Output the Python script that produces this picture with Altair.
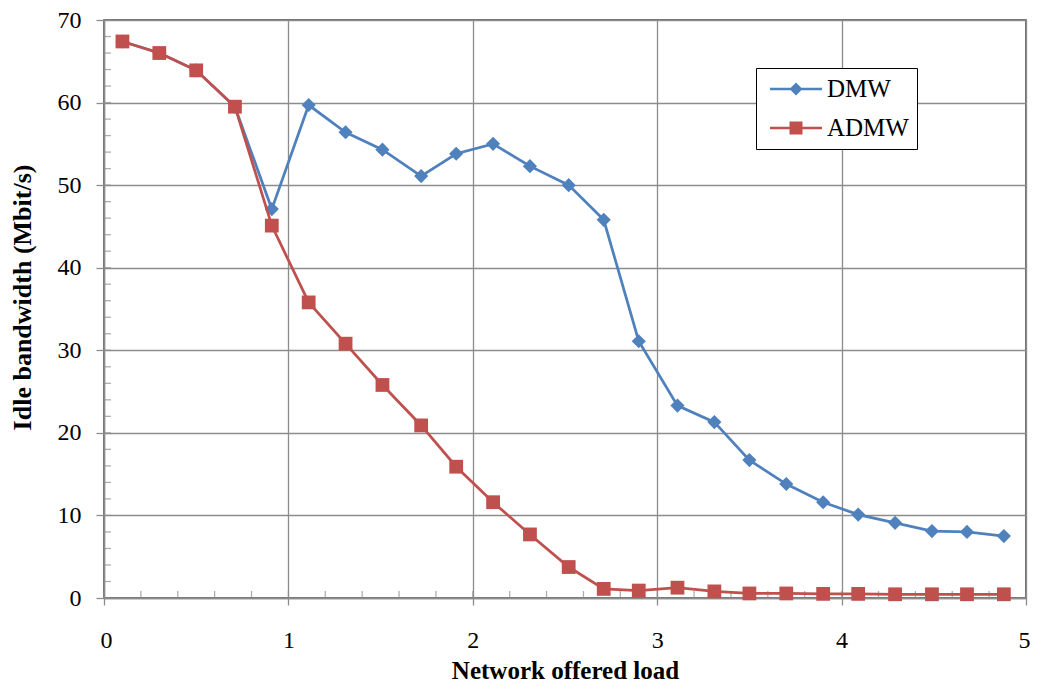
import altair as alt
import pandas as pd

# ---- data ----
load = [0.10, 0.30, 0.50, 0.71, 0.91, 1.11, 1.31, 1.51, 1.72, 1.91, 2.11, 2.31, 2.52,
        2.71, 2.90, 3.11, 3.31, 3.50, 3.70, 3.90, 4.09, 4.29, 4.49, 4.68, 4.88]
dmw = [67.4, 66.0, 63.9, 59.5, 47.1, 59.7, 56.4, 54.3, 51.1, 53.8, 55.0, 52.3, 50.0,
       45.8, 31.1, 23.3, 21.3, 16.7, 13.8, 11.6, 10.1, 9.1, 8.1, 8.0, 7.5]
admw = [67.4, 66.0, 63.9, 59.5, 45.1, 35.8, 30.8, 25.8, 20.9, 15.9, 11.6, 7.7, 3.75,
        1.1, 0.9, 1.25, 0.8, 0.55, 0.55, 0.5, 0.5, 0.45, 0.45, 0.45, 0.45]
series_names = ["DMW", "ADMW"]
x_ticks = [0, 1, 2, 3, 4, 5]
y_ticks = [0, 10, 20, 30, 40, 50, 60, 70]
x_minor = [round(i * 0.2, 1) for i in range(26)]
y_minor = [i * 2 for i in range(36)]

BLUE = "#4F81BD"
RED = "#C0504D"
GRID = "#8c8c8c"
FONT = "Liberation Serif"

df = pd.DataFrame({
    "load": load * 2,
    "bw": dmw + admw,
    "series": ["DMW"] * len(load) + ["ADMW"] * len(load),
})
xminor_df = pd.DataFrame({"t": x_minor})
yminor_df = pd.DataFrame({"t": y_minor})

xscale = alt.Scale(domain=[0, 5], nice=False, zero=False)
yscale = alt.Scale(domain=[0, 70], nice=False)

xaxis = alt.Axis(values=x_ticks, format="d", grid=True, gridColor=GRID, gridWidth=1.3,
                 domainColor=GRID, domainWidth=1.5, tickColor=GRID, tickWidth=1.3, tickSize=7,
                 labelFont=FONT, labelFontSize=24, labelColor="black", labelPadding=23,
                 labelFlush=True, labelFlushOffset=4,
                 title="Network offered load", titleFont=FONT, titleFontSize=25,
                 titleFontWeight="bold", titleColor="black", titleY=80,
                 titleBaseline="alphabetic")
yaxis = alt.Axis(values=y_ticks, grid=True, gridColor=GRID, gridWidth=1.3,
                 domainColor=GRID, domainWidth=1.5, tickColor=GRID, tickWidth=1.3, tickSize=8,
                 labelFont=FONT, labelFontSize=24, labelColor="black", labelPadding=15,
                 labelFlush=False,
                 title="Idle bandwidth (Mbit/s)", titleFont=FONT, titleFontSize=26,
                 titleFontWeight="bold", titleColor="black", titleAngle=-90,
                 titleX=-74, titleY=277, titleAlign="center", titleBaseline="alphabetic")

X = lambda f: alt.X(f, scale=xscale, axis=xaxis)
Y = lambda f: alt.Y(f, scale=yscale, axis=yaxis)

base = alt.Chart(df)

def series_layers(name, color, shape, size):
    d = base.transform_filter(alt.datum.series == name)
    line = d.mark_line(color=color, strokeWidth=2.75).encode(x=X("load:Q"), y=Y("bw:Q"))
    pts = d.mark_point(shape=shape, filled=True, size=size, color=color,
                       opacity=1).encode(x=X("load:Q"), y=Y("bw:Q"))
    return [line, pts]

# inward minor ticks on both axes
xt = alt.Chart(xminor_df).transform_calculate(zero="0").mark_tick(
    orient="vertical", size=7, thickness=1.3, color=GRID, yOffset=-3.5).encode(
    x=X("t:Q"), y=Y("zero:Q"))
yt = alt.Chart(yminor_df).transform_calculate(zero="0").mark_tick(
    orient="horizontal", size=7, thickness=1.3, color=GRID, xOffset=3.5).encode(
    y=Y("t:Q"), x=X("zero:Q"))

# legend symbols: a line segment with the marker in its middle
diamond_path = "M-2,-0.1H2V0.1H-2Z M0,-0.5L0.5,0L0,0.5L-0.5,0Z"
square_path = "M-2,-0.1H2V0.1H-2Z M-0.5,-0.5H0.5V0.5H-0.5Z"
leg = alt.Legend(title="\u2003", titleOrient="right", titleFontSize=12, titlePadding=0,
                 orient="none", legendX=652, legendY=48, padding=8,
                 fillColor="white", strokeColor="black", labelFont=FONT,
                 labelFontSize=25, labelColor="black", labelOffset=18, symbolOffset=19,
                 rowPadding=13, symbolSize=676, symbolStrokeWidth=0, symbolOpacity=1)
legend_layer = base.transform_filter("false").mark_point(filled=True, opacity=1).encode(
    x=X("load:Q"),
    y=Y("bw:Q"),
    color=alt.Color("series:N", scale=alt.Scale(domain=series_names, range=[BLUE, RED]),
                    legend=leg),
    shape=alt.Shape("series:N", scale=alt.Scale(domain=series_names,
                                                range=[diamond_path, square_path]),
                    legend=leg),
)

layers = series_layers("DMW", BLUE, "diamond", 200) + [xt, yt] + \
         series_layers("ADMW", RED, "square", 190) + [legend_layer]

chart = alt.layer(*layers).properties(
    width=922, height=578,
    autosize=alt.AutoSizeParams(type="none"),
    padding={"left": 96, "top": 12, "right": 4, "bottom": 84},
).configure_view(stroke="#404040", strokeWidth=1.5).configure_axis(
    labelFont=FONT, titleFont=FONT
)

chart.save("out.html", embed_options={"renderer": "svg", "actions": False})
